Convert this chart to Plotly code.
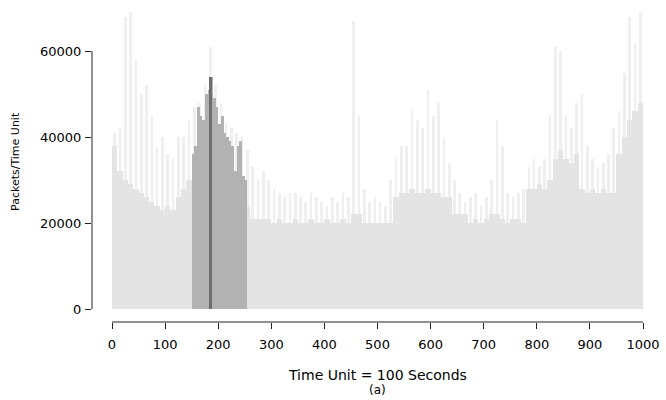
import plotly.graph_objects as go

# ---- data ----
# light series: 10-unit bins starting at these time units
bin_start = list(range(0, 1000, 10))
body = [38000, 32000, 30000, 29000, 28000, 27000, 26000, 25000, 24000, 23000,
        24000, 23000, 26000, 28000, 30000, 30000, 30000, 30000, 30000, 30000,
        30000, 30000, 30000, 30000, 30000, 24000, 21000, 21000, 21000, 21000,
        20000, 21000, 20000, 20000, 21000, 20000, 20000, 21000, 20000, 20000,
        21000, 20000, 20000, 21000, 20000, 22000, 22000, 20000, 20000, 20000,
        20000, 20000, 20000, 26000, 27000, 27000, 28000, 27000, 27000, 28000,
        27000, 27000, 26000, 26000, 22000, 22000, 22000, 20000, 21000, 20000,
        21000, 22000, 22000, 21000, 20000, 21000, 21000, 20000, 28000, 28000,
        29000, 28000, 30000, 35000, 37000, 35000, 34000, 36000, 28000, 27000,
        28000, 27000, 28000, 27000, 27000, 36000, 40000, 44000, 46000, 48000]
peaks = [41000, 42000, 68000, 69000, 58000, 50000, 52000, 45000, 38000, 40000,
         36000, 35000, 40000, 40000, 44000, 47000, 48000, 52000, 61000, 52000,
         48000, 43000, 42000, 41000, 40000, 37000, 33000, 30000, 32000, 30000,
         28000, 27000, 26000, 27000, 27000, 26000, 25000, 27000, 26000, 25000,
         24000, 26000, 25000, 27000, 26000, 67000, 45000, 28000, 25000, 26000,
         25000, 24000, 30000, 35000, 38000, 38000, 46000, 44000, 42000, 51000,
         45000, 48000, 40000, 34000, 30000, 27000, 25000, 26000, 27000, 24000,
         26000, 30000, 44000, 38000, 27000, 26000, 27000, 28000, 33000, 35000,
         33000, 35000, 45000, 61000, 60000, 45000, 42000, 48000, 50000, 38000,
         35000, 33000, 34000, 36000, 42000, 46000, 55000, 68000, 62000, 69000]
# highlighted window: 5-unit bins
hi_start = list(range(150, 255, 5))
hi_vals = [36000, 38000, 47000, 45000, 44000, 50000, 51000, 54000, 49000, 47000,
           43000, 45000, 41000, 40000, 39000, 38000, 32000, 38000, 39000, 31000,
           30000]
# darkest bar
dark_start = [183]
dark_vals = [54000]

y_ticks = [0, 20000, 40000, 60000]
y_tick_text = ["0", "20000", "40000", "60000"]
x_ticks = list(range(0, 1001, 100))
x_tick_text = [str(v) for v in x_ticks]

# ---- layout geometry (pixels) ----
W, H = 666, 400
ml, mr, mt, mb = 92, 6, 0, 78
pw, ph = W - ml - mr, H - mt - mb
# x: unit 0 at px 112, 1000 at px 643
xs = (643 - 112) / 1000.0
x0 = -(112 - ml) / xs
x1 = x0 + pw / xs
# y: 0 at px 309, 60000 at px 51
ys = (309 - 51) / 60000.0
y0 = -(322 - 309) / ys
y1 = y0 + ph / ys

FONT = "DejaVu Sans"
fig = go.Figure()
fig.add_bar(x=[s + 5 for s in bin_start], y=peaks, width=5,
            marker=dict(color="#efefef", line=dict(width=0)), showlegend=False)
fig.add_bar(x=[s + 5 for s in bin_start], y=body, width=10,
            marker=dict(color="#e4e4e4", line=dict(width=0)), showlegend=False)
fig.add_bar(x=[s + 2.5 for s in hi_start], y=hi_vals, width=5,
            marker=dict(color="#b2b2b2", line=dict(width=0)), showlegend=False)
fig.add_bar(x=[s + 2.5 for s in dark_start], y=dark_vals, width=5,
            marker=dict(color="#6e6e6e", line=dict(width=0)), showlegend=False)

fig.update_layout(
    width=W, height=H, barmode="overlay", bargap=0,
    margin=dict(l=ml, r=mr, t=mt, b=mb, pad=0),
    paper_bgcolor="white", plot_bgcolor="white",
    font=dict(family=FONT, size=13, color="black"),
    xaxis=dict(range=[x0, x1], tickmode="array", tickvals=x_ticks,
               ticktext=x_tick_text, ticks="outside", ticklen=6,
               tickcolor="#222", showgrid=False, zeroline=False,
               showline=False, ticklabelstandoff=4,
               tickfont=dict(size=13, family=FONT)),
    yaxis=dict(range=[y0, y1], tickmode="array", tickvals=y_ticks,
               ticktext=y_tick_text, ticks="outside", ticklen=6,
               tickcolor="#222", showgrid=False, zeroline=False,
               showline=False, ticklabelstandoff=1,
               tickfont=dict(size=13, family=FONT)),
    shapes=[
        dict(type="line", xref="paper", yref="y", x0=0, x1=0, y0=0, y1=60000,
             line=dict(color="#222", width=1)),
        dict(type="line", xref="x", yref="paper", x0=0, x1=1000, y0=0, y1=0,
             line=dict(color="#222", width=1)),
    ],
    annotations=[
        dict(text="Time Unit = 100 Seconds", xref="x", yref="paper",
             x=500, y=-(375 - 322) / ph, showarrow=False,
             font=dict(size=14, family=FONT), xanchor="center", yanchor="middle"),
        dict(text="(a)", xref="x", yref="paper",
             x=500, y=-(390 - 322) / ph, showarrow=False,
             font=dict(size=12, family=FONT), xanchor="center", yanchor="middle"),
        dict(text="Packets/Time Unit", xref="paper", yref="paper",
             x=-(ml - 16) / pw, y=(322 - 162) / ph, textangle=-90,
             showarrow=False, font=dict(size=11, family=FONT),
             xanchor="center", yanchor="middle"),
    ],
)
fig.write_html("out.html")
